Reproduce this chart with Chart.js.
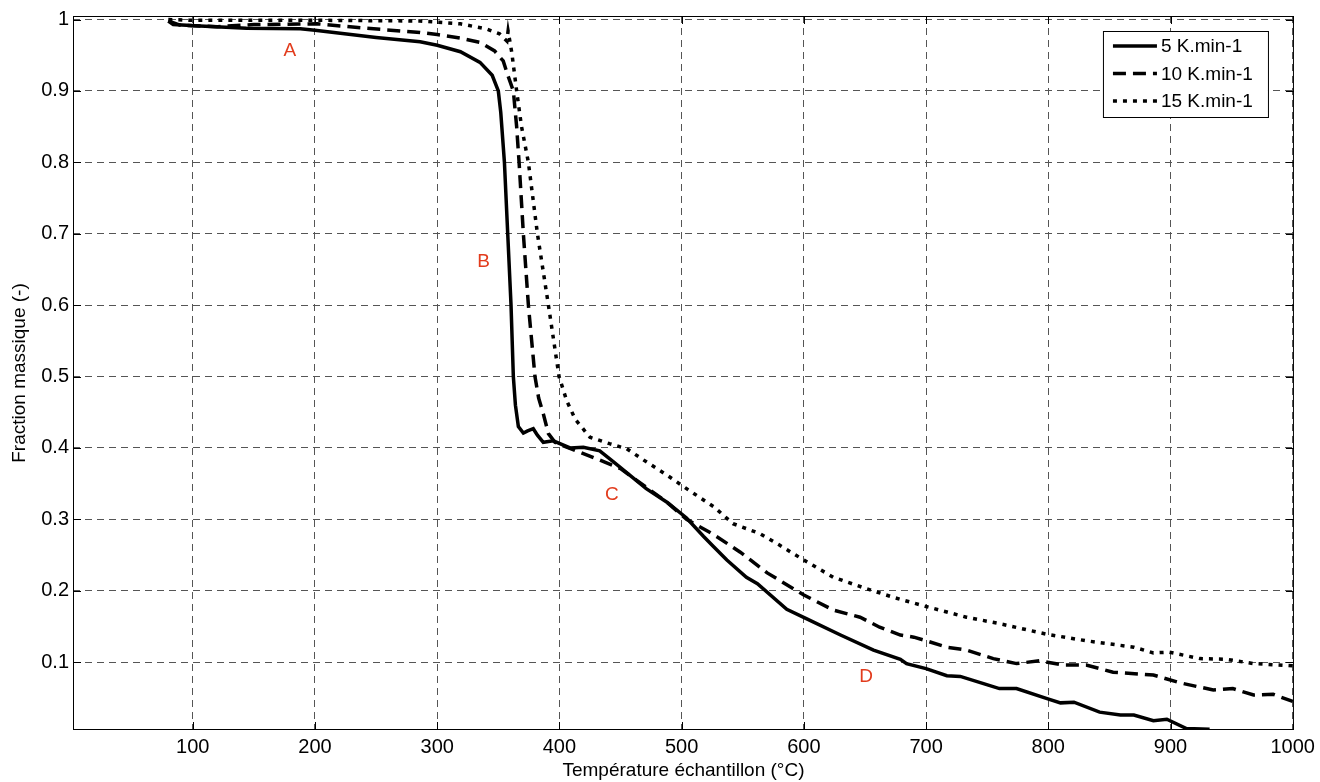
<!DOCTYPE html>
<html>
<head>
<meta charset="utf-8">
<script src="https://cdn.jsdelivr.net/npm/chart.js@4.4.1/dist/chart.umd.min.js"></script>
<style>
  html, body { margin: 0; padding: 0; background: #fff; }
  canvas { display: block; }
</style>
</head>
<body>
<canvas id="tgaChart" width="1320" height="782"></canvas>
<script>
// mass fraction vs sample temperature
const temp5 = [80, 84, 106, 144, 188, 200, 250, 286, 300, 319, 335, 345, 350, 352, 355, 357.7, 360.4, 362.3, 364, 366.4, 370.5, 374, 378.6, 382, 386.8, 395, 408.7, 419.6, 433, 444, 471, 488, 504, 518, 526, 537, 553, 562, 586, 602, 630, 657, 679, 684, 700, 717, 728, 747, 760, 774, 799, 810, 821, 842, 859, 870, 886, 897, 913, 932];
const mass5 = [0.998, 0.993, 0.991, 0.988, 0.987, 0.985, 0.975, 0.969, 0.964, 0.955, 0.94, 0.922, 0.9, 0.87, 0.8, 0.7, 0.6, 0.5, 0.46, 0.43, 0.421, 0.424, 0.427, 0.418, 0.408, 0.41, 0.4, 0.401, 0.396, 0.381, 0.343, 0.324, 0.302, 0.276, 0.262, 0.243, 0.219, 0.21, 0.174, 0.161, 0.138, 0.117, 0.104, 0.098, 0.091, 0.081, 0.08, 0.07, 0.063, 0.063, 0.049, 0.043, 0.044, 0.03, 0.026, 0.026, 0.018, 0.02, 0.007, 0.006];

const temp10 = [80, 90, 120, 150, 202, 248, 286, 300, 319, 335, 347, 354, 358, 362.3, 365, 367, 370.5, 374.6, 380, 383, 386.8, 391, 396.4, 400, 417, 433, 450, 471, 488, 504, 526, 548, 570, 600, 624, 646, 662, 679, 690, 700, 717, 733, 755, 774, 793, 812, 831, 853, 886, 908, 935, 951, 968, 984, 1000];
const mass10 = [0.998, 0.992, 0.99, 0.993, 0.994, 0.987, 0.982, 0.979, 0.974, 0.968, 0.956, 0.942, 0.921, 0.9, 0.85, 0.8, 0.7, 0.6, 0.5, 0.47, 0.448, 0.42, 0.408, 0.405, 0.394, 0.383, 0.371, 0.345, 0.324, 0.3, 0.279, 0.254, 0.225, 0.194, 0.173, 0.163, 0.149, 0.138, 0.135, 0.13, 0.121, 0.117, 0.105, 0.098, 0.102, 0.096, 0.096, 0.086, 0.082, 0.071, 0.061, 0.063, 0.054, 0.055, 0.045];

const temp15 = [80, 100, 200, 286, 319, 340, 351, 357, 358, 361, 365, 369, 374.6, 382, 391, 399.7, 406, 413, 425, 441, 455, 469, 488, 504, 526, 542, 564, 580, 600, 624, 651, 673, 679, 700, 733, 760, 799, 831, 870, 886, 899, 924, 946, 968, 1000];
const mass15 = [1.0, 0.999, 0.999, 0.998, 0.994, 0.987, 0.98, 0.97, 0.984, 0.954, 0.9, 0.85, 0.8, 0.7, 0.6, 0.5, 0.466, 0.44, 0.415, 0.406, 0.399, 0.383, 0.362, 0.343, 0.318, 0.294, 0.28, 0.264, 0.243, 0.219, 0.203, 0.191, 0.188, 0.178, 0.163, 0.154, 0.139, 0.13, 0.121, 0.113, 0.114, 0.105, 0.104, 0.098, 0.095];

const seriesNames = ['5 K.min-1', '10 K.min-1', '15 K.min-1'];
const xTicks = [100, 200, 300, 400, 500, 600, 700, 800, 900, 1000];
const yTicks = [0.1, 0.2, 0.3, 0.4, 0.5, 0.6, 0.7, 0.8, 0.9, 1];

// red stage letters
const stageText = ['A', 'B', 'C', 'D'];
const stageX = [179.5, 338, 443, 651];
const stageY = [0.957, 0.661, 0.334, 0.079];

const FONT = '"Liberation Sans", Arial, Helvetica, sans-serif';

function pairs(xs, ys) {
    return xs.map((x, i) => ({x: x, y: ys[i]}));
}

// axes box, inward ticks, stage letters and the framed legend
const decorPlugin = {
    id: 'decor',
    afterDraw(chart) {
        const ctx = chart.ctx;
        const a = chart.chartArea;
        const xs = chart.scales.x, ys = chart.scales.y;
        ctx.save();
        ctx.strokeStyle = '#000';
        ctx.lineWidth = 1;
        ctx.strokeRect(a.left + 0.5, a.top + 0.5, a.right - a.left - 1, a.bottom - a.top - 1);
        ctx.beginPath();
        const tl = 8;
        xTicks.forEach(v => {
            const px = Math.round(xs.getPixelForValue(v)) + 0.5;
            ctx.moveTo(px, a.bottom); ctx.lineTo(px, a.bottom - tl);
            ctx.moveTo(px, a.top); ctx.lineTo(px, a.top + tl);
        });
        yTicks.forEach(v => {
            const py = Math.round(ys.getPixelForValue(v)) + 0.5;
            ctx.moveTo(a.left, py); ctx.lineTo(a.left + tl, py);
            ctx.moveTo(a.right, py); ctx.lineTo(a.right - tl, py);
        });
        ctx.stroke();

        ctx.fillStyle = '#e23b1c';
        ctx.font = '19px ' + FONT;
        ctx.textAlign = 'center';
        ctx.textBaseline = 'middle';
        stageText.forEach((t, i) => {
            ctx.fillText(t, xs.getPixelForValue(stageX[i]), ys.getPixelForValue(stageY[i]));
        });

        // legend
        const bw = 165, bh = 86;
        const bx = a.right - 26 - bw, by = a.top + 15;
        ctx.fillStyle = '#fff';
        ctx.fillRect(bx, by, bw, bh);
        ctx.strokeStyle = '#000';
        ctx.lineWidth = 1;
        ctx.strokeRect(bx + 0.5, by + 0.5, bw, bh);
        ctx.font = '19px ' + FONT;
        ctx.textAlign = 'left';
        ctx.fillStyle = '#000';
        chart.data.datasets.forEach((ds, i) => {
            const yy = by + 15 + i * 27.5;
            ctx.save();
            ctx.lineWidth = ds.borderWidth;
            ctx.setLineDash(ds.borderDash || []);
            ctx.beginPath();
            ctx.moveTo(bx + 10, yy);
            ctx.lineTo(bx + 54, yy);
            ctx.stroke();
            ctx.restore();
            ctx.fillText(ds.label, bx + 58, yy + 1);
        });
        ctx.restore();
    }
};

new Chart(document.getElementById('tgaChart'), {
    type: 'scatter',
    data: {
        datasets: [{
            label: seriesNames[0],
            data: pairs(temp5, mass5),
            borderColor: '#000',
            borderWidth: 3.5
        }, {
            label: seriesNames[1],
            data: pairs(temp10, mass10),
            borderColor: '#000',
            borderWidth: 3.5,
            borderDash: [13, 7]
        }, {
            label: seriesNames[2],
            data: pairs(temp15, mass15),
            borderColor: '#000',
            borderWidth: 3.5,
            borderDash: [4, 6]
        }]
    },
    options: {
        responsive: false,
        animation: false,
        showLine: true,
        elements: {
            point: { radius: 0, hoverRadius: 0 },
            line: { tension: 0, borderCapStyle: 'butt' }
        },
        layout: { padding: { top: 15, right: 26, left: 0, bottom: 0 } },
        plugins: {
            legend: { display: false },
            tooltip: { enabled: false }
        },
        scales: {
            x: {
                type: 'linear',
                min: 2,
                max: 1001,
                afterBuildTicks: s => { s.ticks = xTicks.map(v => ({value: v})); },
                afterFit: s => { s.height = 52; },
                ticks: {
                    color: '#000',
                    padding: 5,
                    maxRotation: 0,
                    font: { family: FONT, size: 20 },
                    callback: v => String(v)
                },
                grid: { color: '#555', lineWidth: 1, drawTicks: false },
                border: { display: false, dash: [7, 5] },
                title: {
                    display: true,
                    text: 'Température échantillon (°C)',
                    color: '#000',
                    font: { family: FONT, size: 19 },
                    padding: { top: 0, bottom: 0 }
                }
            },
            y: {
                type: 'linear',
                min: 0.005,
                max: 1.005,
                afterBuildTicks: s => { s.ticks = yTicks.map(v => ({value: v})); },
                afterFit: s => { s.width = 73; },
                ticks: {
                    color: '#000',
                    padding: 4,
                    font: { family: FONT, size: 20 },
                    callback: v => String(Math.round(v * 10) / 10)
                },
                grid: { color: '#555', lineWidth: 1, drawTicks: false },
                border: { display: false, dash: [7, 5] },
                title: {
                    display: true,
                    text: 'Fraction massique (-)',
                    color: '#000',
                    font: { family: FONT, size: 19 },
                    padding: { top: 8, bottom: 0 }
                }
            }
        }
    },
    plugins: [decorPlugin]
});
</script>
</body>
</html>
